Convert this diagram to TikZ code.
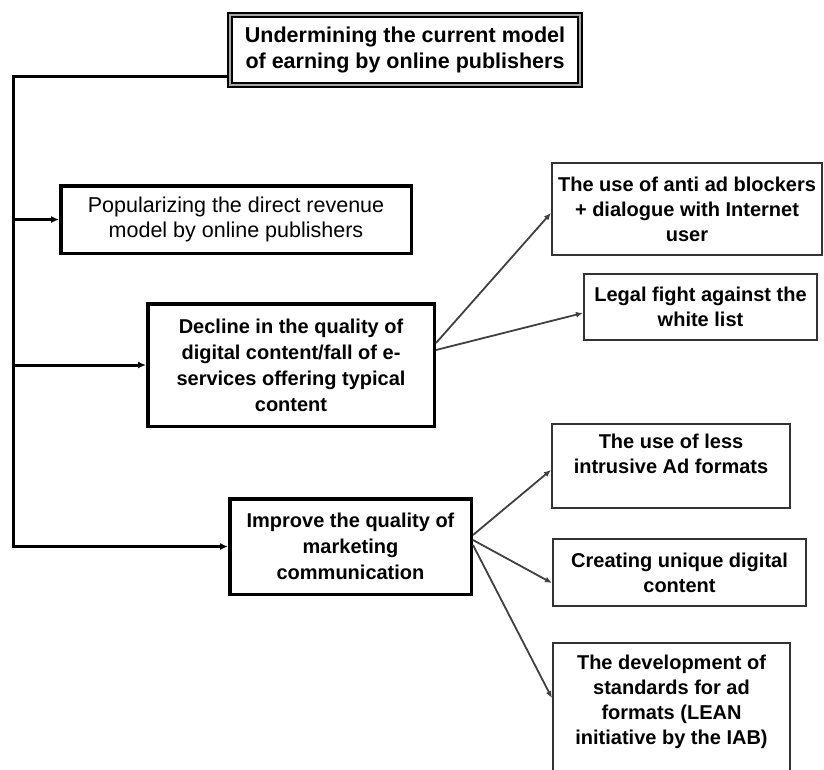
\documentclass[tikz,border=0pt]{standalone}
\usepackage{fontspec}
\setmainfont{Liberation Sans}
\usetikzlibrary{arrows.meta,positioning}

\begin{document}
\begin{tikzpicture}[x=1pt,y=-1pt,
  topbox/.style={draw, double=gray!70, double distance=2.8pt, line width=1.8pt, inner sep=0pt, align=center, font=\bfseries\fontsize{21.5}{26}\selectfont},
  mainbox/.style={draw, line width=3.5pt, inner sep=0pt, align=center, font=\bfseries\fontsize{20}{26}\selectfont},
  subbox/.style={draw=black!80, line width=2.2pt, inner sep=0pt, align=center, font=\bfseries\fontsize{20}{25}\selectfont},
  feed/.style={line width=3pt, -{Latex[length=8pt,width=7pt]}},
  branch/.style={draw=black!75, line width=1.8pt, -{Latex[length=7pt,width=6pt]}}]
                \useasboundingbox (0,0) rectangle (824,769);
                \node[topbox, minimum width=350pt, minimum height=70pt] (top) at (405,50) {Undermining the current model\\of earning by online publishers};
                \node[mainbox, font=\fontsize{21.5}{25}\selectfont, minimum width=350.5pt, minimum height=67.5pt] (pop) at (236,219.5) {Popularizing the direct revenue\\model by online publishers};
                \node[mainbox, minimum width=286.5pt, minimum height=122.5pt] (decline) at (291,365) {Decline in the quality of\\digital content/fall of e-\\services offering typical\\content};
                \node[mainbox, minimum width=241.5pt, minimum height=95.5pt] (improve) at (350.5,546.5) {Improve the quality of\\marketing\\communication};
                \node[subbox, minimum width=270pt, minimum height=92pt] (anti) at (687,209) {The use of anti ad blockers\\+ dialogue with Internet\\user};
                \node[subbox, minimum width=233pt, minimum height=66pt] (legal) at (700.5,307) {Legal fight against the\\white list};
                \node[subbox, minimum width=238pt, minimum height=84pt] (less) at (671,466) {The use of less\\intrusive Ad formats\\~};
                \node[subbox, minimum width=253pt, minimum height=67pt] (unique) at (679.5,572.5) {Creating unique digital\\content};
                \node[subbox, minimum width=237pt, minimum height=138pt] (lean) at (671.5,712) {The development of\\standards for ad\\formats (LEAN\\initiative by the IAB)\\~};
                \coordinate (spine) at (13,76);
                \coordinate (foot) at (13,546.5);
                \draw[feed] ([yshift=-26pt]top.west) -- (spine) -- (foot) -- (improve.west);
                \draw[feed] (spine |- pop.west) -- (pop.west);
                \draw[feed] (spine |- decline.west) -- (decline.west);
                \draw[branch] ([yshift=22pt]decline.east) -- ([yshift=-4pt]anti.west);
                \draw[branch] ([yshift=15pt]decline.east) -- ([yshift=-6pt]legal.west);
                \draw[branch] ([yshift=11.5pt]improve.east) -- ([yshift=-4pt]less.west);
                \draw[branch] ([yshift=6.5pt]improve.east) -- ([yshift=-10.5pt]unique.west);
                \draw[branch] ([yshift=1.5pt]improve.east) -- ([yshift=14pt]lean.west);
\end{tikzpicture}
\end{document}
